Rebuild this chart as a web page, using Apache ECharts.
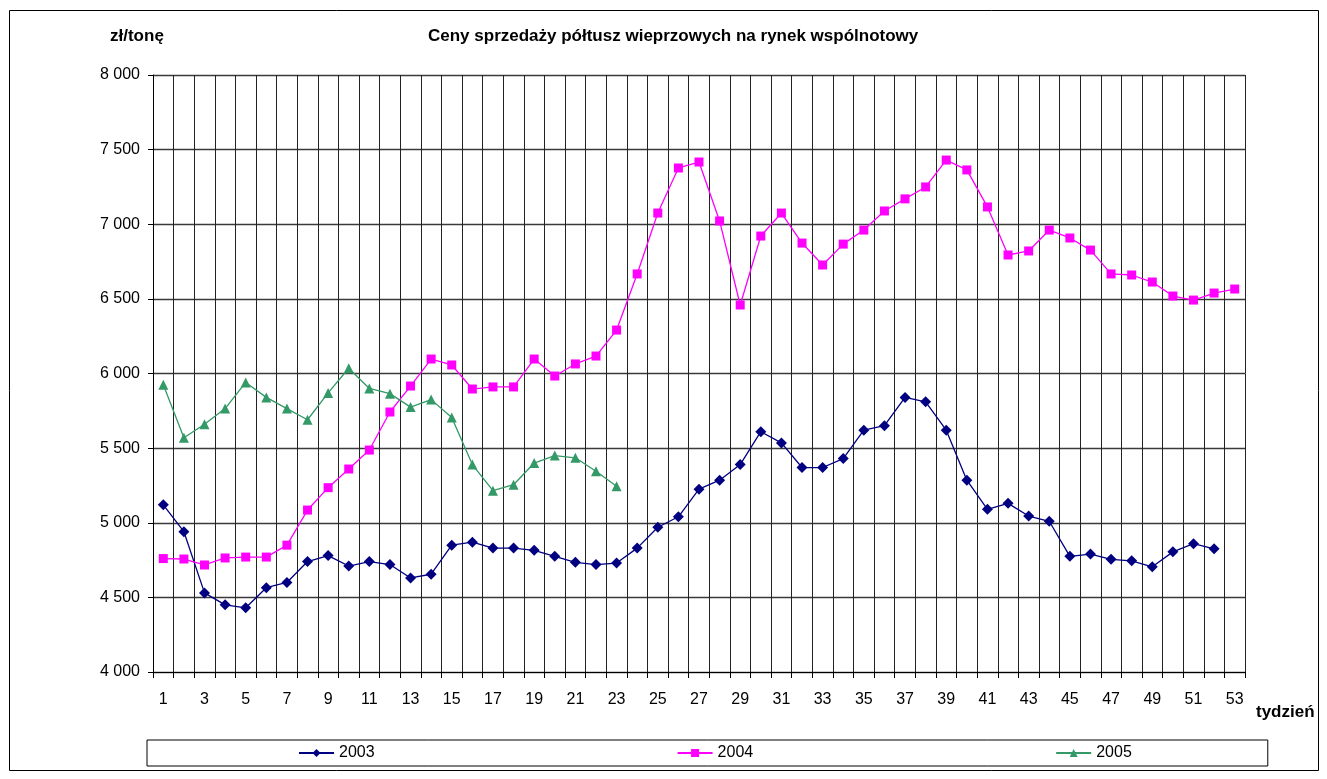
<!DOCTYPE html>
<html>
<head>
<meta charset="utf-8">
<script src="https://cdn.jsdelivr.net/npm/echarts@6/dist/echarts.min.js"></script>
<style>
  html, body { margin: 0; padding: 0; background: #fff; }
  #chart { width: 1327px; height: 779px; }
</style>
</head>
<body>
<div id="chart"></div>
<script>
// tygodnie 1..53
var weeks = [];
for (var w = 1; w <= 53; w++) weeks.push(String(w));

var seriesNames = ['2003', '2004', '2005'];

var data2003 = [5120, 4940, 4530, 4450, 4430, 4565, 4600, 4740, 4780, 4710,
  4740, 4720, 4630, 4655, 4850, 4870, 4830, 4830, 4815, 4775,
  4735, 4720, 4730, 4830, 4970, 5040, 5225, 5285, 5390, 5610,
  5535, 5370, 5370, 5430, 5620, 5650, 5840, 5810, 5620, 5285,
  5090, 5130, 5045, 5010, 4775, 4790, 4755, 4745, 4705, 4805,
  4860, 4825];

var data2004 = [4760, 4757, 4717, 4764, 4770, 4770, 4850, 5085, 5235, 5360,
  5487, 5742, 5916, 6097, 6057, 5896, 5910, 5910, 6097, 5983,
  6064, 6117, 6291, 6667, 7075, 7377, 7417, 7022, 6459, 6921,
  7075, 6874, 6727, 6867, 6961, 7089, 7170, 7250, 7430, 7364,
  7116, 6794, 6821, 6961, 6908, 6827, 6667, 6660, 6613, 6519,
  6492, 6539, 6566];

var data2005 = [5925, 5570, 5660, 5765, 5940, 5840, 5765, 5690, 5870, 6035,
  5900, 5865, 5775, 5825, 5705, 5390, 5215, 5255, 5400, 5450,
  5435, 5345, 5245];

var chart = echarts.init(document.getElementById('chart'));
var font = '"Liberation Sans", Arial, sans-serif';

chart.setOption({
  animation: false,
  textStyle: { fontFamily: font, color: '#000' },
  graphic: [
    {
      type: 'rect',
      shape: { x: 9.5, y: 10.5, width: 1309, height: 760 },
      style: { fill: 'none', stroke: '#000', lineWidth: 1 },
      silent: true
    },
    {
      type: 'text', left: 110, top: 28,
      style: { text: 'zł/tonę', font: 'bold 17px ' + font, fill: '#000' }
    },
    {
      type: 'text', left: 428, top: 28,
      style: { text: 'Ceny sprzedaży półtusz wieprzowych na rynek wspólnotowy', font: 'bold 17px ' + font, fill: '#000' }
    },
    {
      type: 'text', left: 1256, top: 704,
      style: { text: 'tydzień', font: 'bold 17px ' + font, fill: '#000' }
    }
  ],
  legend: {
    data: seriesNames,
    left: 147,
    top: 740,
    orient: 'horizontal',
    padding: [5, 136, 5, 151],
    itemGap: 302,
    itemWidth: 35,
    itemHeight: 10,
    borderColor: '#000',
    borderWidth: 1,
    textStyle: { fontSize: 16, color: '#000', fontFamily: font }
  },
  grid: { left: 153, right: 82, top: 75, bottom: 107 },
  xAxis: {
    type: 'category',
    data: weeks,
    boundaryGap: true,
    axisLine: { lineStyle: { color: '#000', width: 1 } },
    axisTick: { show: true, interval: 0, length: 6, lineStyle: { color: '#000' } },
    axisLabel: { interval: 1, fontSize: 16, color: '#000', margin: 20 },
    splitLine: { show: true, interval: 0, lineStyle: { color: '#222', width: 1 } }
  },
  yAxis: {
    type: 'value',
    min: 4000,
    max: 8000,
    interval: 500,
    axisLine: { show: true, lineStyle: { color: '#000', width: 1 } },
    axisTick: { show: true, length: 5, lineStyle: { color: '#000' } },
    axisLabel: {
      fontSize: 16, color: '#000', margin: 13,
      formatter: function (v) { return String(v).replace(/\B(?=(\d{3})+(?!\d))/g, ' '); }
    },
    splitLine: { show: true, lineStyle: { color: '#3a3a3a', width: 1.3 } }
  },
  series: [
    {
      name: '2003', type: 'line', data: data2003,
      symbol: 'diamond', symbolSize: 11,
      itemStyle: { color: '#000080' },
      lineStyle: { color: '#000080', width: 1.3 }
    },
    {
      name: '2004', type: 'line', data: data2004,
      symbol: 'rect', symbolSize: 9,
      itemStyle: { color: '#FF00FF' },
      lineStyle: { color: '#FF00FF', width: 1.3 }
    },
    {
      name: '2005', type: 'line', data: data2005,
      symbol: 'triangle', symbolSize: 10,
      itemStyle: { color: '#339966' },
      lineStyle: { color: '#339966', width: 1.3 }
    }
  ]
});
</script>
</body>
</html>
